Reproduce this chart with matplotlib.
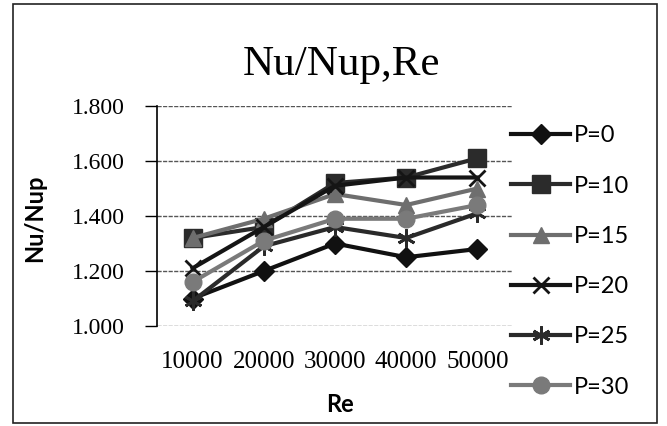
import matplotlib.pyplot as plt
from matplotlib.patches import Rectangle

# data
re_labels = ["10000", "20000", "30000", "40000", "50000"]
p0 = [1.10, 1.20, 1.30, 1.25, 1.28]
p10 = [1.32, 1.36, 1.52, 1.54, 1.61]
p15 = [1.32, 1.39, 1.48, 1.44, 1.50]
p20 = [1.21, 1.36, 1.51, 1.54, 1.54]
p25 = [1.09, 1.29, 1.36, 1.32, 1.41]
p30 = [1.16, 1.31, 1.39, 1.39, 1.44]

series = [
    ("P=0", p0, "D", "#111111", 10),
    ("P=10", p10, "s", "#2b2b2b", 13),
    ("P=15", p15, "^", "#6e6e6e", 11),
    ("P=20", p20, "x", "#151515", 11),
    ("P=25", p25, (6, 2, 0), "#2a2a2a", 13),
    ("P=30", p30, "o", "#7a7a7a", 12),
]

serif = ["Liberation Serif", "DejaVu Serif"]
sans = ["Lato", "DejaVu Sans"]

fig = plt.figure(figsize=(6.67, 4.26), dpi=100)
ax = fig.add_axes([157 / 667, 1 - 326 / 426, 356 / 667, 220 / 426])

x = list(range(len(re_labels)))
for name, vals, marker, color, ms in series:
    ax.plot(x, vals, color=color, lw=3, marker=marker, markersize=ms,
            markeredgewidth=2 if marker in ("x", (6, 2, 0)) else 1,
            markeredgecolor=color, label=name, zorder=3)

ax.set_xlim(-0.5, 4.5)
ax.set_ylim(1.0, 1.8)
ax.set_yticks([1.0, 1.2, 1.4, 1.6, 1.8])
ax.set_yticklabels(["1.000", "1.200", "1.400", "1.600", "1.800"], family=serif, fontsize=17)
ax.set_xticks(x)
ax.set_xticklabels(re_labels, family=serif, fontsize=18)
ax.tick_params(axis="x", length=0, pad=18)
ax.tick_params(axis="y", length=9, width=1, direction="out", pad=14)
ax.grid(axis="y", color="#555555", lw=1, ls=(0, (3, 1)))
ax.set_axisbelow(True)
for s in ("top", "right"):
    ax.spines[s].set_visible(False)
ax.spines["bottom"].set_visible(False)
ax.spines["left"].set_linewidth(1.2)

fig.text(342 / 667, 1 - 65 / 426, "Nu/Nup,Re", family=serif, fontsize=31,
         ha="center", va="center")
fig.text(340 / 667, 1 - 405 / 426, "Re", family=sans, fontweight="bold",
         fontsize=17, ha="center", va="center")
fig.text(35 / 667, 1 - 218 / 426, "Nu/Nup", family=sans, fontweight="bold",
         fontsize=17, ha="center", va="center", rotation=90)

leg = fig.legend(loc="upper left", bbox_to_anchor=(490 / 667, 1 - 104 / 426),
                 frameon=False, handlelength=2.5, handletextpad=0.15,
                 labelspacing=1.24, prop={"family": sans, "size": 17})

# outer chart border
fig.patches.append(Rectangle((13 / 667, 3 / 426), 644 / 667, 419 / 426,
                             transform=fig.transFigure, fill=False,
                             edgecolor="#222222", lw=1.2))

fig.savefig("out.png", dpi=100)
